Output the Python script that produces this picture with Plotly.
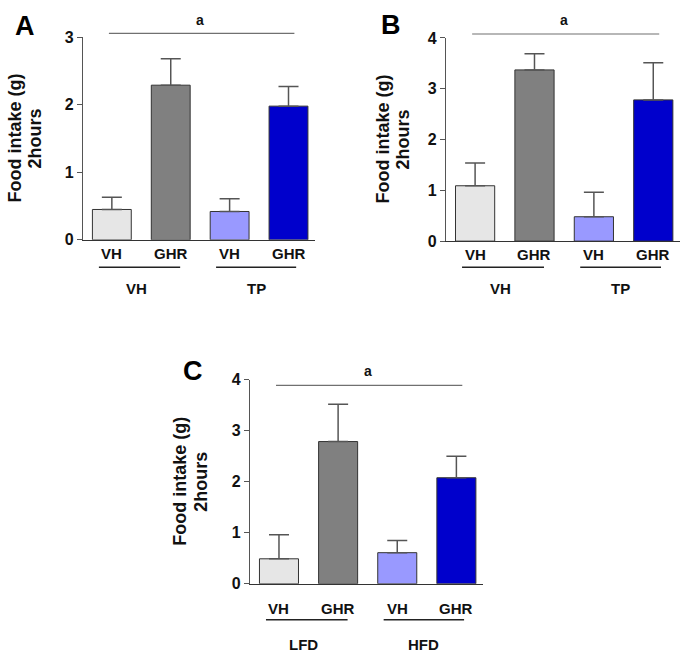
import plotly.graph_objects as go

W, H = 685, 660

# ---- data ----
categories = ["VH", "GHR", "VH", "GHR"]
colors = ["#e6e6e6", "#808080", "#9999ff", "#0000cc"]

a_values = [0.45, 2.29, 0.42, 1.98]
a_errors = [0.18, 0.39, 0.19, 0.29]
a_groups = ["VH", "TP"]

b_values = [1.09, 3.37, 0.48, 2.78]
b_errors = [0.45, 0.32, 0.48, 0.73]
b_groups = ["VH", "TP"]

c_values = [0.49, 2.79, 0.61, 2.08]
c_errors = [0.47, 0.73, 0.24, 0.42]
c_groups = ["LFD", "HFD"]

FONT = "Liberation Sans, Arial, sans-serif"


def fx(x):
    return x / W


def fy(y):
    return 1 - y / H


panels = [
    dict(name="A", values=a_values, errors=a_errors, groups=a_groups, ymax=3,
         xdom=(83, 315), ydom=(238, 30), xa="x", ya="y",
         letter=(25, 18), sig=(26, 12), title_x=(15, 35),
         cat_y=252, ul_y=266, grp_y=288, grp_x=(0.42, 2.45)),
    dict(name="B", values=b_values, errors=b_errors, groups=b_groups, ymax=4,
         xdom=(446, 680), ydom=(239.3, 30.7), xa="x2", ya="y2",
         letter=(391, 17), sig=(26.7, 12.5), title_x=(383, 403),
         cat_y=253, ul_y=266, grp_y=288, grp_x=(0.42, 2.45)),
    dict(name="C", values=c_values, errors=c_errors, groups=c_groups, ymax=4,
         xdom=(250, 483), ydom=(591, 381.7), xa="x3", ya="y3",
         letter=(193, 373), sig=(387.3, 373), title_x=(180, 201),
         cat_y=616, ul_y=628, grp_y=653, grp_x=(0.42, 2.45)),
]

fig = go.Figure()
annotations = []
shapes = []
layout = {}

for i, p in enumerate(panels):
    xs = list(range(len(categories)))
    fig.add_trace(go.Bar(
        x=xs, y=p["values"], width=0.66,
        marker=dict(color=colors, line=dict(color="#333333", width=1)),
        error_y=dict(type="data", symmetric=False, array=p["errors"],
                     arrayminus=[0] * len(p["errors"]),
                     color="#555555", thickness=1.5, width=10),
        xaxis=p["xa"], yaxis=p["ya"], showlegend=False,
    ))
    sfx = "" if i == 0 else str(i + 1)
    layout["xaxis" + sfx] = dict(
        domain=[fx(p["xdom"][0]), fx(p["xdom"][1])], range=[-0.49, 3.45],
        showticklabels=False, showgrid=False, zeroline=False,
        showline=True, linecolor="#333333", linewidth=1.2, ticks="",
        anchor="y" + sfx, fixedrange=True,
    )
    layout["yaxis" + sfx] = dict(
        domain=[fy(p["ydom"][0]), fy(p["ydom"][1])], range=[0, p["ymax"]],
        dtick=1, showgrid=False, zeroline=False, showline=True,
        linecolor="#555555", linewidth=1.2, ticks="outside", ticklen=5,
        tickcolor="#555555", tickwidth=1.2,
        tickfont=dict(family=FONT, size=16, color="#111111", weight="bold"),
        anchor="x" + sfx, fixedrange=True,
    )
    # category labels
    for k, c in enumerate(categories):
        annotations.append(dict(
            x=k, y=fy(p["cat_y"]), xref=p["xa"], yref="paper", text=c,
            showarrow=False, yanchor="middle", xanchor="center",
            font=dict(family=FONT, size=15, color="#111111", weight="bold")))
    # group underlines and labels
    for (x0, x1), gx, g in zip([(-0.22, 1.16), (1.77, 3.13)], p["grp_x"], p["groups"]):
        shapes.append(dict(type="line", xref=p["xa"], yref="paper",
                           x0=x0, x1=x1, y0=fy(p["ul_y"]), y1=fy(p["ul_y"]),
                           line=dict(color="#222222", width=1.5)))
        annotations.append(dict(
            x=gx, y=fy(p["grp_y"]), xref=p["xa"], yref="paper", text=g,
            showarrow=False, yanchor="middle", xanchor="center",
            font=dict(family=FONT, size=15, color="#111111", weight="bold")))
    # significance line
    shapes.append(dict(type="line", xref=p["xa"], yref="paper",
                       x0=-0.05, x1=3.1, y0=fy(p["sig"][0]), y1=fy(p["sig"][0]),
                       line=dict(color="#707070", width=1.2)))
    annotations.append(dict(
        x=1.5, y=fy(p["sig"][1]), xref=p["xa"], yref="paper", text="a",
        showarrow=False, yanchor="middle", xanchor="center",
        font=dict(family=FONT, size=14, color="#111111", weight="bold")))
    # panel letter
    annotations.append(dict(
        x=fx(p["letter"][0]), y=fy(p["letter"][1]), xref="paper", yref="paper",
        text=p["name"], showarrow=False, xanchor="center", yanchor="middle",
        font=dict(family=FONT, size=27, color="#000000", weight="bold")))
    # y-axis title (two lines)
    yc = (p["ydom"][0] + p["ydom"][1]) / 2
    for tx, line in zip(p["title_x"], ["Food intake (g)", "2hours"]):
        annotations.append(dict(
            x=fx(tx), y=fy(yc), xref="paper", yref="paper",
            text=line, textangle=-90, showarrow=False,
            xanchor="center", yanchor="middle",
            font=dict(family=FONT, size=18, color="#111111", weight="bold")))

fig.update_layout(
    width=W, height=H, margin=dict(l=0, r=0, t=0, b=0),
    paper_bgcolor="white", plot_bgcolor="white",
    annotations=annotations, shapes=shapes, bargap=0.3,
    **layout,
)

fig.write_html(
    "out.html",
    config={"displayModeBar": False},
    post_script="document.body.style.margin='0';document.body.style.overflow='hidden';",
)
